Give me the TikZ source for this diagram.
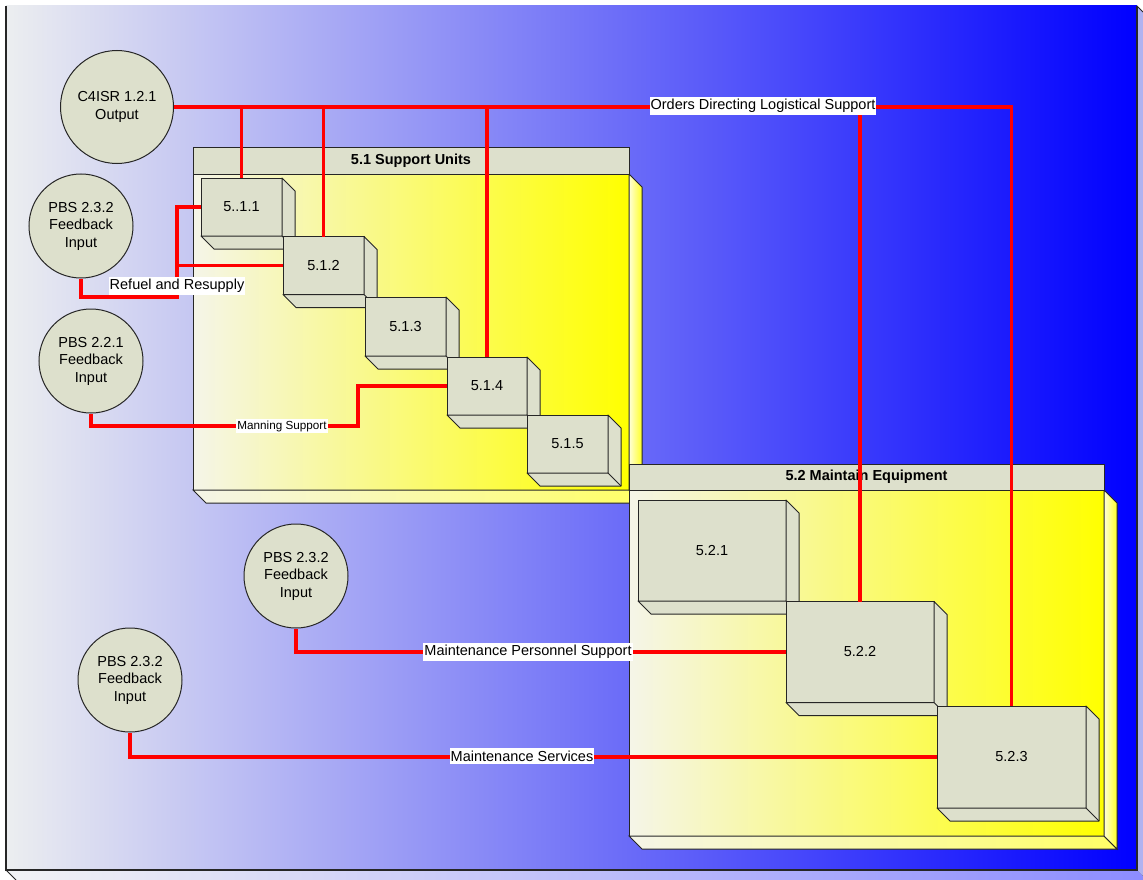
\documentclass[tikz,border=0pt]{standalone}
\usepackage{fontspec}
\setmainfont{Liberation Sans}
\usepackage{xcolor}
\usetikzlibrary{calc}
\definecolor{boxgray}{RGB}{221,224,204}
\definecolor{bgleft}{RGB}{236,238,240}
\definecolor{bgright}{RGB}{0,0,255}
\definecolor{pkgleft}{RGB}{245,245,232}
\definecolor{sideblue}{RGB}{176,178,240}
\definecolor{linkred}{RGB}{255,0,0}
% front face of a block plus its right and bottom faces
\newcommand{\blockbox}[5]{%
  \node[blk,minimum width=#3,minimum height=#4] (#1) at (#2) {#5};
  \draw[blkface] (#1.north east) -- ++(13,13) -- ($(#1.south east)+(13,13)$) -- ($(#1.south west)+(13,13)$)
    -- (#1.south west) -- (#1.south east) -- cycle;
  \draw[blkface] (#1.south east) -- ++(13,13);}

\begin{document}
\begin{tikzpicture}[x=1pt,y=-1pt,font=\fontsize{14.5}{17.5}\selectfont,
  blk/.style={draw=black!85,line width=1pt,fill=boxgray,outer sep=0pt,inner sep=0pt},
  blkface/.style={draw=black!85,line width=1pt,fill=boxgray,line join=round},
  pkgbody/.style={draw=black!85,line width=1pt,left color=pkgleft,right color=yellow,outer sep=0pt,inner sep=0pt},
  pkgbottom/.style={draw=black!85,line width=1pt,left color=pkgleft,right color=yellow!60},
  pkgside/.style={draw=black!85,line width=1pt,left color=yellow!15,right color=yellow!85},
  pkghead/.style={draw=black!85,line width=1pt,fill=boxgray,outer sep=0pt,inner sep=0pt,
    font=\fontsize{14.5}{17}\selectfont\bfseries},
  src/.style={circle,draw=black!85,line width=1pt,fill=boxgray,align=center,inner sep=0pt,minimum size=104},
  link/.style={draw=linkred,line width=3.2pt},
  lab/.style={fill=white,inner xsep=1pt,inner ysep=2.5pt}]
\useasboundingbox (0,0) rectangle (1143,880);

% background frame
\fill[left color=bgleft!70!white,right color=bgright!45!white] (6,870) -- (16,880) -- (1147,880) -- (1137,870) -- cycle;
\fill[sideblue] (1137,6) -- (1147,16) -- (1147,880) -- (1137,870) -- cycle;
\shade[left color=bgleft,right color=bgright] (6,6) rectangle (1137,870);
\draw[black!85,line width=1.2pt] (6,6) -- (6,870) -- (1137,870) -- (1137,6);
\draw[black!85,line width=1pt] (6,870) -- (16,880) (1137,6) -- (1143,12);

% 5.1 Support Units
\node[pkgbody,minimum width=436,minimum height=316,anchor=north west] (p51) at (193,174) {};
\draw[pkgbottom] (p51.south west) -- ++(13,13) -- ($(p51.south east)+(13,13)$) -- (p51.south east) -- cycle;
\draw[pkgside] (p51.north east) -- ++(13,13) -- ($(p51.south east)+(13,13)$) -- (p51.south east) -- cycle;
\node[pkghead,minimum width=436,minimum height=26,anchor=south west] (p51h) at (p51.north west) {5.1 Support Units};

\blockbox{b511}{241.5,207}{81}{58}{5..1.1}
\blockbox{b512}{323.5,265.5}{81}{58}{5.1.2}
\blockbox{b513}{405.5,326.5}{81}{59}{5.1.3}
\blockbox{b514}{487,386}{80}{58}{5.1.4}
\blockbox{b515}{567.5,444}{81}{58}{5.1.5}

% 5.2 Maintain Equipment
\node[pkgbody,minimum width=475,minimum height=346,anchor=north west] (p52) at (629,490) {};
\draw[pkgbottom] (p52.south west) -- ++(13,13) -- ($(p52.south east)+(13,13)$) -- (p52.south east) -- cycle;
\draw[pkgside] (p52.north east) -- ++(13,13) -- ($(p52.south east)+(13,13)$) -- (p52.south east) -- cycle;
\node[pkghead,minimum width=475,minimum height=26,anchor=south west] (p52h) at (p52.north west) {5.2 Maintain Equipment};

\blockbox{b521}{712,550.5}{148}{101}{5.2.1}
\blockbox{b522}{860,652}{148}{101}{5.2.2}
\blockbox{b523}{1011.5,757}{149}{102}{5.2.3}

% inputs and outputs
\node[src,minimum size=113] (c4isr) at (117,107) {C4ISR 1.2.1\\Output};
\node[src] (pbs1) at (81,226) {PBS 2.3.2\\Feedback\\Input};
\node[src] (pbs2) at (91,361) {PBS 2.2.1\\Feedback\\Input};
\node[src] (pbs3) at (296,576) {PBS 2.3.2\\Feedback\\Input};
\node[src] (pbs4) at (130,680) {PBS 2.3.2\\Feedback\\Input};

% flows
\draw[link] (c4isr.east) -| (b523.north);
\foreach \nm in {b511,b512,b514,b522}
  \draw[link] (\nm.north) -- (\nm.north |- c4isr.east);
\coordinate (rfl) at (177,297);
\draw[link] (pbs1.south) |- (rfl) |- (b511.west);
\draw[link] (rfl |- b512.west) -- (b512.west);
\coordinate (mns) at (358,426);
\draw[link] (pbs2.south) |- (mns) |- (b514.west);
\draw[link] (pbs3.south) |- (b522.west);
\draw[link] (pbs4.south) |- (b523.west);

\node[lab] (orders) at (763,106) {Orders Directing Logistical Support};
\node[lab] (refuel) at (177,286) {Refuel and Resupply};
\node[lab,font=\fontsize{11.7}{13}\selectfont,inner ysep=1.5pt] (manning) at (282,426) {Manning Support};
\node[lab] (persup) at (528,652) {Maintenance Personnel Support};
\node[lab] (mserv) at (522,756) {Maintenance Services};
\end{tikzpicture}
\end{document}
